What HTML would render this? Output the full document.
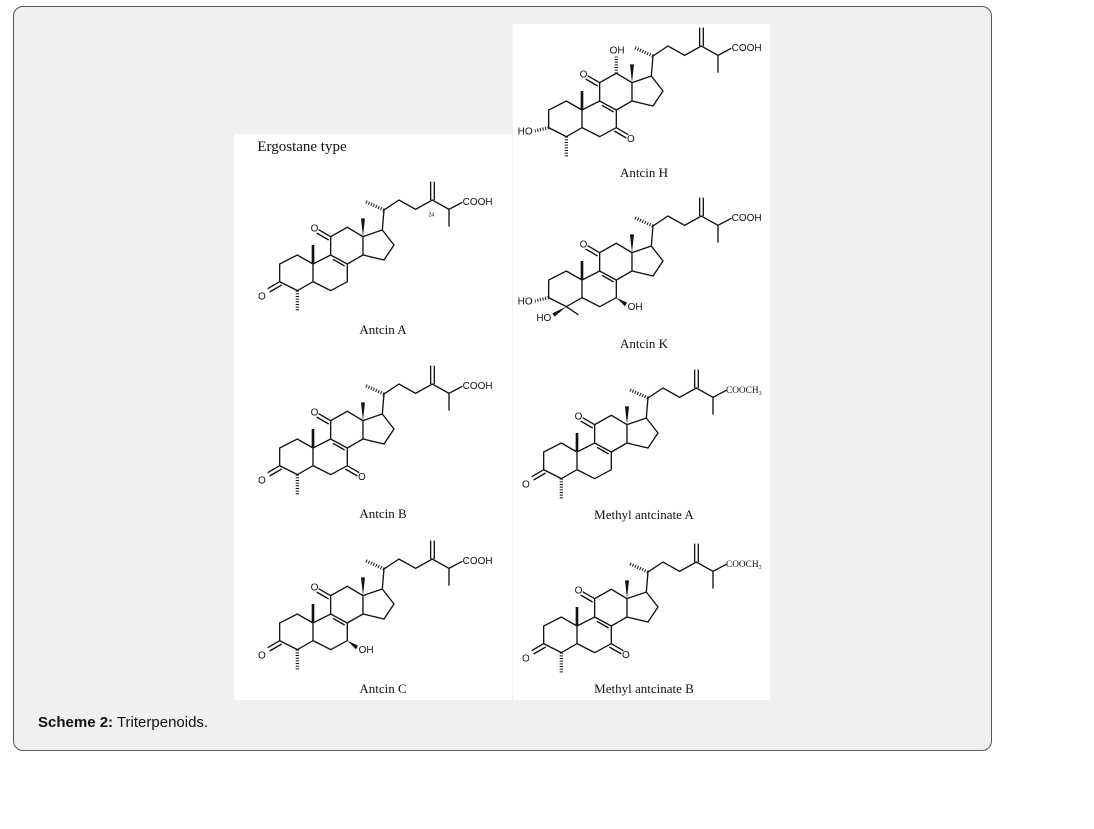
<!DOCTYPE html>
<html><head><meta charset="utf-8"><style>
body{margin:0;background:#fff;width:1094px;height:829px;overflow:hidden;position:relative;font-family:"Liberation Sans",sans-serif}
.panel{position:absolute;left:13px;top:6px;width:977px;height:743px;background:#f0f0f0;border:1px solid #555;border-radius:10px}
.cap{position:absolute;left:38px;top:714px;font-size:15px;color:#111}
svg{position:absolute;left:0;top:0}
</style></head><body>
<div class="panel"></div>
<div class="cap"><b>Scheme 2:</b> Triterpenoids.</div>
<svg width="1094" height="829" viewBox="0 0 1094 829">
<defs>
<g id="core" fill="none" stroke="#111" stroke-width="4">
<path d="M237,282 L190,255 L137,282 L137,335 L190,362 L237,335 Z M237,282 L290,255 L340,282 L340,335 L290,362 L237,335 M290,255 L290,200 L340,172 L387,200 L387,255 L340,282 M387,200 L445,180 L480,225 L450,270 L387,255 M297,268 L332,288 M445,180 L450,120 L495,90 L545,118 L595,90 L645,118 L685,97 M645,118 L645,170 M590,90 L590,35 M601,90 L601,35"/>
<line x1="237" y1="282" x2="237" y2="225" stroke-width="8"/>
<polygon points="387,200 381,145 393,145" fill="#111" stroke="none"/>
<line x1="450" y1="120" x2="395" y2="95" stroke-width="10" stroke-dasharray="3 5"/>
</g>
<g id="k11" fill="none" stroke="#111" stroke-width="4"><path d="M290,200 L254,179 M284,210 L248,189"/></g>
<g id="k3" fill="none" stroke="#111" stroke-width="4"><path d="M137,335 L101,356 M143,345 L107,366"/></g>
<g id="k7" fill="none" stroke="#111" stroke-width="4"><path d="M340,335 L376,356 M334,345 L370,366"/></g>
<line id="m4" x1="190" y1="362" x2="190" y2="425" stroke="#111" stroke-width="10" stroke-dasharray="3 5"/>
</defs>
<rect x="234" y="134" width="278" height="566" fill="#fff"/>
<rect x="513" y="24" width="257" height="676" fill="#fff"/>
<g font-family="Liberation Serif,serif" font-size="13" fill="#111" text-anchor="middle">
<text x="302" y="151" font-size="15">Ergostane type</text>
<text x="383" y="334">Antcin A</text>
<text x="383" y="518">Antcin B</text>
<text x="383" y="693">Antcin C</text>
<text x="644" y="177">Antcin H</text>
<text x="644" y="348">Antcin K</text>
<text x="644" y="519">Methyl antcinate A</text>
<text x="644" y="693">Methyl antcinate B</text>
</g>
<g font-family="Liberation Sans,sans-serif" font-size="30" fill="#111">
<g transform="translate(234,170) scale(0.3333)">
<use href="#core"/><use href="#k11"/><use href="#k3"/><use href="#m4"/>
<text x="230" y="184">O</text><text x="72" y="388">O</text>
<text x="686" y="105">COOH</text><text x="583" y="140" font-size="16">24</text>
</g>
<g transform="translate(234,354) scale(0.3333)">
<use href="#core"/><use href="#k11"/><use href="#k3"/><use href="#k7"/><use href="#m4"/>
<text x="230" y="184">O</text><text x="72" y="388">O</text><text x="372" y="378">O</text>
<text x="686" y="105">COOH</text>
</g>
<g transform="translate(234,529) scale(0.3333)">
<use href="#core"/><use href="#k11"/><use href="#k3"/><use href="#m4"/>
<polygon points="340,335 372,350 366,361" fill="#111"/>
<text x="230" y="184">O</text><text x="72" y="388">O</text><text x="374" y="372">OH</text>
<text x="686" y="105">COOH</text>
</g>
<g transform="translate(503,16) scale(0.3333)">
<use href="#core"/><use href="#k11"/><use href="#k7"/><use href="#m4"/>
<line x1="137" y1="335" x2="96" y2="345" stroke="#111" stroke-width="10" stroke-dasharray="3 5"/>
<line x1="340" y1="172" x2="340" y2="122" stroke="#111" stroke-width="10" stroke-dasharray="3 5"/>
<text x="230" y="184">O</text><text x="372" y="378">O</text>
<text x="44" y="355">HO</text><text x="320" y="112">OH</text>
<text x="686" y="105">COOH</text>
</g>
<g transform="translate(503,186) scale(0.3333)">
<use href="#core"/><use href="#k11"/>
<line x1="137" y1="335" x2="96" y2="345" stroke="#111" stroke-width="10" stroke-dasharray="3 5"/>
<polygon points="190,362 148,382 155,392" fill="#111"/>
<line x1="190" y1="362" x2="226" y2="386" stroke="#111" stroke-width="4"/>
<polygon points="340,335 372,350 366,361" fill="#111"/>
<text x="230" y="184">O</text>
<text x="44" y="355">HO</text><text x="100" y="405">HO</text><text x="374" y="372">OH</text>
<text x="686" y="105">COOH</text>
</g>
<g transform="translate(498,358) scale(0.3333)">
<use href="#core"/><use href="#k11"/><use href="#k3"/><use href="#m4"/>
<text x="230" y="184">O</text><text x="72" y="388">O</text>
<text x="684" y="105" font-family="Liberation Serif,serif" font-size="28">COOCH<tspan font-size="18" dy="6">3</tspan></text>
</g>
<g transform="translate(498,532) scale(0.3333)">
<use href="#core"/><use href="#k11"/><use href="#k3"/><use href="#k7"/><use href="#m4"/>
<text x="230" y="184">O</text><text x="72" y="388">O</text><text x="372" y="378">O</text>
<text x="684" y="105" font-family="Liberation Serif,serif" font-size="28">COOCH<tspan font-size="18" dy="6">3</tspan></text>
</g>
</g>
</svg>
</body></html>
